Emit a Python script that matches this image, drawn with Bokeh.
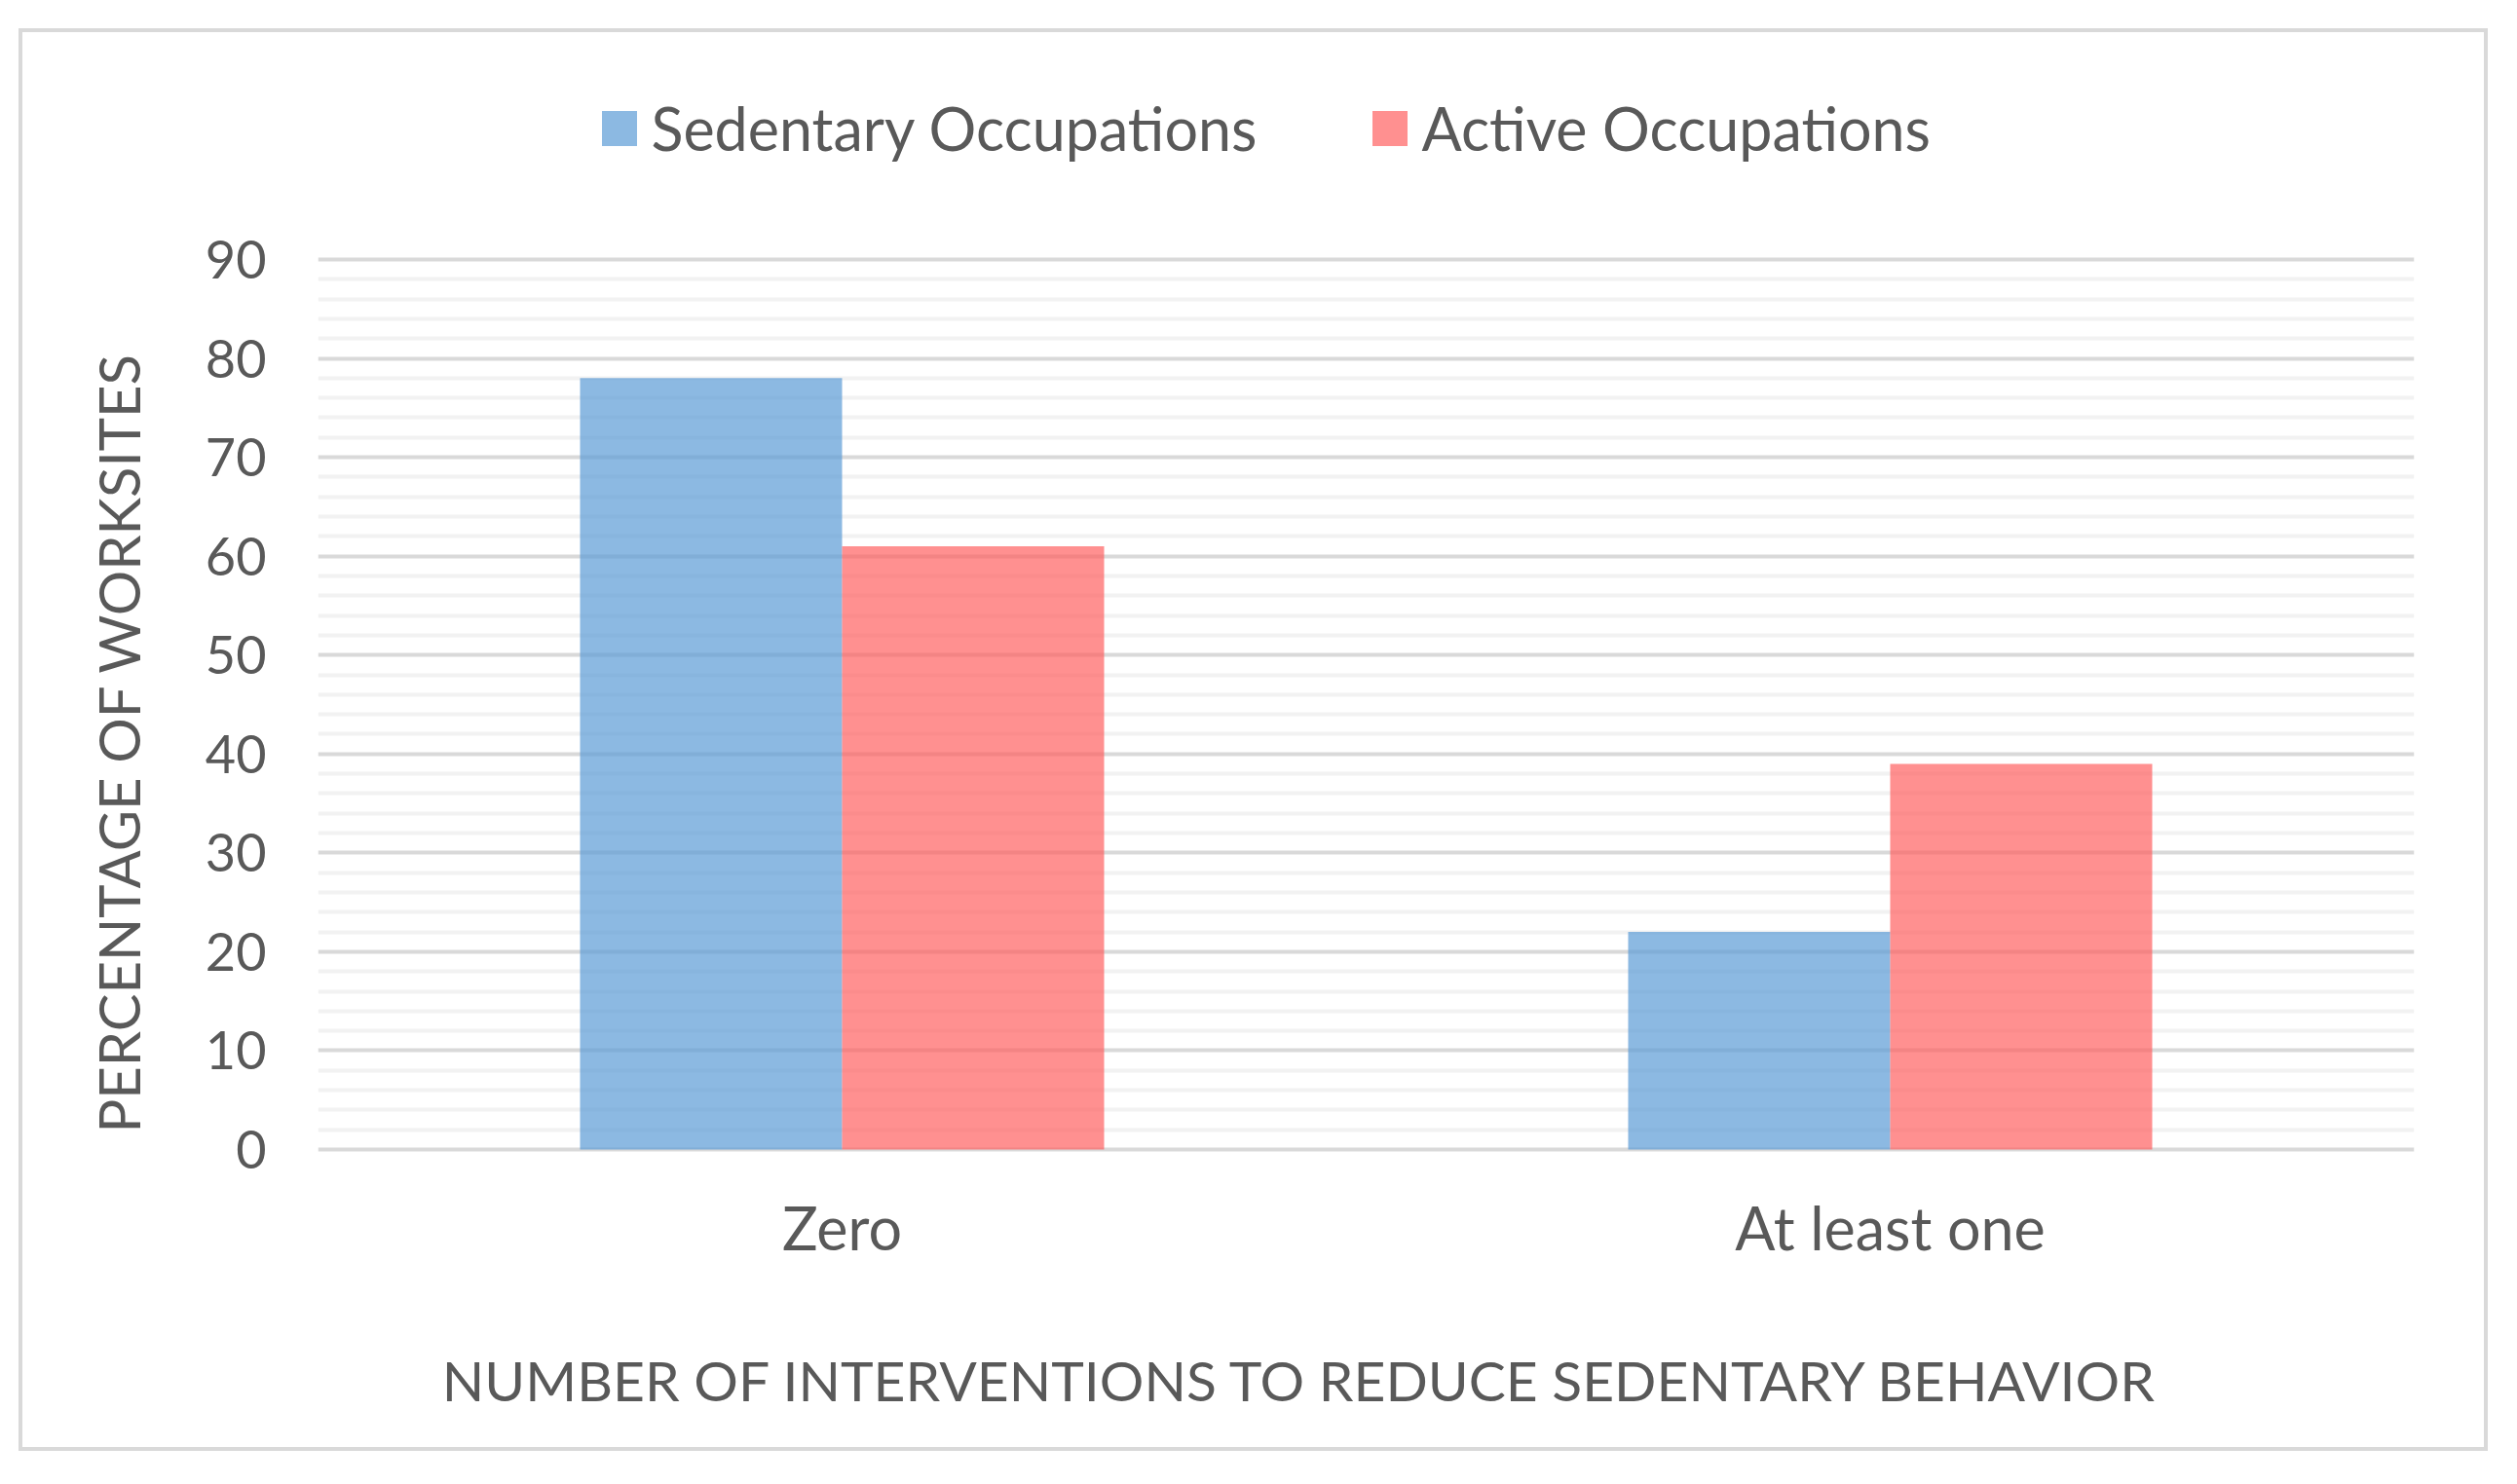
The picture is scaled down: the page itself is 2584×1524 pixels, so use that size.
from bokeh.plotting import figure
from bokeh.models import (FactorRange, Range1d, FixedTicker, Legend, LegendItem,
                          Title, Label, ColumnDataSource)
from bokeh.transform import dodge
from bokeh.embed import file_html
from bokeh.resources import INLINE

# ---------------- data ----------------
categories = ["Zero", "At least one"]
sedentary = [78, 22]
active = [61, 39]
series_names = ["Sedentary Occupations", "Active Occupations"]
y_ticks = [0, 10, 20, 30, 40, 50, 60, 70, 80, 90]
y_minor_ticks = [v for v in range(0, 91, 2) if v % 10]
x_title = "NUMBER OF INTERVENTIONS TO REDUCE SEDENTARY BEHAVIOR"
y_title = "PERCENTAGE OF WORKSITES"

# ---------------- layout ----------------
W, H = 2527, 1453                    # canvas inside the chart border
BL, BR, BT, BB = 303, 72, 50, 0      # min borders -> plot frame
FW = W - BL - BR
Y0_PX = 1147                         # canvas row of y = 0
PPU = 914 / 90                       # pixels per y unit
Y_START = (Y0_PX - (H - BB)) / PPU
Y_END = (Y0_PX - BT) / PPU
XT_CX, XT_BASE = 1312, 1383          # x-axis title anchor (canvas px)
FONT = "Lato"
TXT = "#595959"
GRID_MAJOR = "#d9d9d9"
GRID_MINOR = "#f2f2f2"
BLUE = "#5B9BD5"
RED = "#FF5B5B"


def data_x(px):
    return (px - BL) / FW * len(categories)


def data_y(px):
    return (Y0_PX - px) / PPU


src = ColumnDataSource(dict(cat=categories, sed=sedentary, act=active))

p = figure(x_range=FactorRange(*categories), y_range=Range1d(Y_START, Y_END),
           width=W, height=H, output_backend="svg", toolbar_location=None,
           title=None,
           min_border_left=BL, min_border_right=BR,
           min_border_top=BT, min_border_bottom=BB)
p.outline_line_color = None
p.background_fill_color = "white"
p.border_fill_color = "white"
p.styles = {"outline": "4px solid " + GRID_MAJOR,
            "margin-left": "23px", "margin-top": "33px"}

r1 = p.vbar(x=dodge("cat", -0.125, range=p.x_range), top="sed", width=0.25,
            source=src, fill_color=BLUE, fill_alpha=0.7, line_color=None)
r2 = p.vbar(x=dodge("cat", 0.125, range=p.x_range), top="act", width=0.25,
            source=src, fill_color=RED, fill_alpha=0.68, line_color=None)

# grid
p.xgrid.visible = False
p.ygrid.ticker = FixedTicker(ticks=y_ticks, minor_ticks=y_minor_ticks)
p.ygrid.grid_line_color = GRID_MAJOR
p.ygrid.grid_line_width = 4
p.ygrid.minor_grid_line_color = GRID_MINOR
p.ygrid.minor_grid_line_width = 4

# axes
for ax in (p.xaxis[0], p.yaxis[0]):
    ax.axis_line_color = None
    ax.major_tick_line_color = None
    ax.minor_tick_line_color = None
    ax.major_tick_out = 0
    ax.minor_tick_out = 0
    ax.major_label_text_font = FONT
    ax.major_label_text_color = TXT
p.yaxis.ticker = FixedTicker(ticks=y_ticks)
p.yaxis.major_label_text_font_size = "54px"
p.yaxis.major_label_standoff = 53
p.xaxis.fixed_location = 0
p.xaxis.major_label_text_font_size = "61px"
p.xaxis.major_label_standoff = 43

# axis titles
p.add_layout(Title(text=y_title, align="left", offset=323, standoff=103,
                   text_font=FONT, text_font_size="58px", text_color=TXT,
                   text_font_style="normal"), "left")
p.add_layout(Label(x=data_x(XT_CX), y=data_y(XT_BASE), text=x_title,
                   text_align="center", text_baseline="alphabetic",
                   text_font=FONT, text_font_size="57px", text_color=TXT))

# legend
legend = Legend(items=[LegendItem(label=series_names[0], renderers=[r1]),
                       LegendItem(label=series_names[1], renderers=[r2])],
                orientation="horizontal", location=(286.5, (H - BB - BT) - 12.5 - 72),
                border_line_color=None, background_fill_alpha=0,
                padding=0, margin=0, spacing=0,
                glyph_width=45, glyph_height=45, label_standoff=11,
                label_width=735, label_height=45,
                label_text_font=FONT, label_text_font_size="61px",
                label_text_color=TXT)
p.add_layout(legend, "center")

open("out.html", "w").write(file_html(p, INLINE))
